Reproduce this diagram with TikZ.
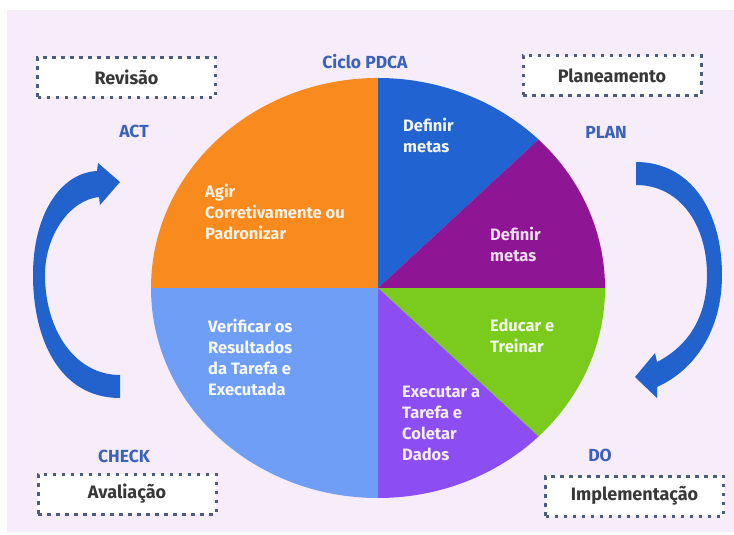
\documentclass[tikz,border=0pt]{standalone}
\usepackage{fontspec}
\setmainfont{Fira Sans}
\usetikzlibrary{positioning}
\definecolor{bgpink}{HTML}{F6ECFA}
\definecolor{labelblue}{HTML}{3A62B8}
\definecolor{boxline}{HTML}{4E5C7C}
\definecolor{boxtext}{HTML}{383838}
\definecolor{arrowblue}{HTML}{2262CC}
\definecolor{actorange}{HTML}{F98A1E}
\definecolor{planblue}{HTML}{2263D2}
\definecolor{planpurple}{HTML}{8E1695}
\definecolor{dogreen}{HTML}{7BCB1E}
\definecolor{doviolet}{HTML}{8C4DF2}
\definecolor{checkblue}{HTML}{6F9EF7}
\tikzset{phase/.style = {font=\bfseries\fontsize{17.5}{20}\selectfont, text=labelblue, inner sep=0}}
\tikzset{stagebox/.style = {draw=boxline, fill=white, line width=3, dash pattern=on 3.5pt off 5.5pt,
                            minimum width=178, minimum height=40, inner sep=0,
                            font=\bfseries\fontsize{18}{20}\selectfont, text=boxtext}}
\tikzset{segtext/.style = {anchor=west, align=left, inner sep=0,
                           font=\bfseries\fontsize{16.5}{21}\selectfont}}

\begin{document}
\begin{tikzpicture}[x=1pt, y=-1pt]
    \useasboundingbox (0,0) rectangle (734,535);
    \fill [bgpink] (7,10) rectangle (734,532);

    % pie
    \coordinate (c) at (378,288);
    \foreach \a/\b/\col in {180/270/actorange, 270/315/planblue, 315/360/planpurple,
                            0/45/dogreen, 45/90/doviolet, 90/180/checkblue}
      \fill [\col] (c) -- ++(\a:227 and 210)
        arc [start angle=\a, end angle=\b, x radius=227, y radius=210] -- cycle;

    \node [segtext, text=white!88!actorange] (agir) at (205,212)
      {Agir\\Corretivamente ou\\Padronizar};
    \node [segtext, text=white!94!planblue] (metasa) at (403,135) {Definir\\metas};
    \node [segtext, text=white!85!planpurple] (metasb) at (490,244) {Definir\\metas};
    \node [segtext, text=white!90!dogreen] (educar) at (490,336) {Educar e\\Treinar};
    \node [segtext, text=white!90!doviolet] (executar) at (402,423)
      {Executar a\\Tarefa e\\Coletar\\Dados};
    \node [segtext, text=white!95!checkblue] (verificar) at (208,357)
      {Verificar os\\Resultados\\da Tarefa e\\Executada};

    % titles and phases
    \node [phase] (ciclo) at (365,62) {Ciclo PDCA};
    \node [phase] (act) at (134,131) {ACT};
    \node [phase] (plan) at (606,132) {PLAN};
    \node [phase] (check) at (124,456) {CHECK};
    \node [phase] (do) at (600,455) {DO};

    \node [stagebox] (revisao) at (126.5,77.5) {Revisão};
    \node [stagebox] (planeamento) at (612,76) {Planeamento};
    \node [stagebox] (avaliacao) at (127,494) {Avaliação};
    \node [stagebox] (implementacao) at (634.5,496) {Implementação};

    % curved arrows
    \fill [arrowblue] (120,398) .. controls (60,398) and (33,340) .. (33,275)
      .. controls (33,215) and (60,173) .. (97,171)
      -- (98,163) -- (120,182) -- (100,205) -- (99,197)
      .. controls (70,200) and (45,235) .. (45,275)
      .. controls (45,330) and (75,375) .. (120,375) -- cycle;
    \fill [arrowblue] (636,162) .. controls (690,162) and (722,210) .. (722,275)
      .. controls (722,330) and (695,370) .. (657,387)
      -- (657,398) -- (635,377) -- (655,353) -- (657,362)
      .. controls (690,345) and (707,315) .. (707,275)
      .. controls (707,225) and (680,185) .. (636,185) -- cycle;
\end{tikzpicture}
\end{document}
